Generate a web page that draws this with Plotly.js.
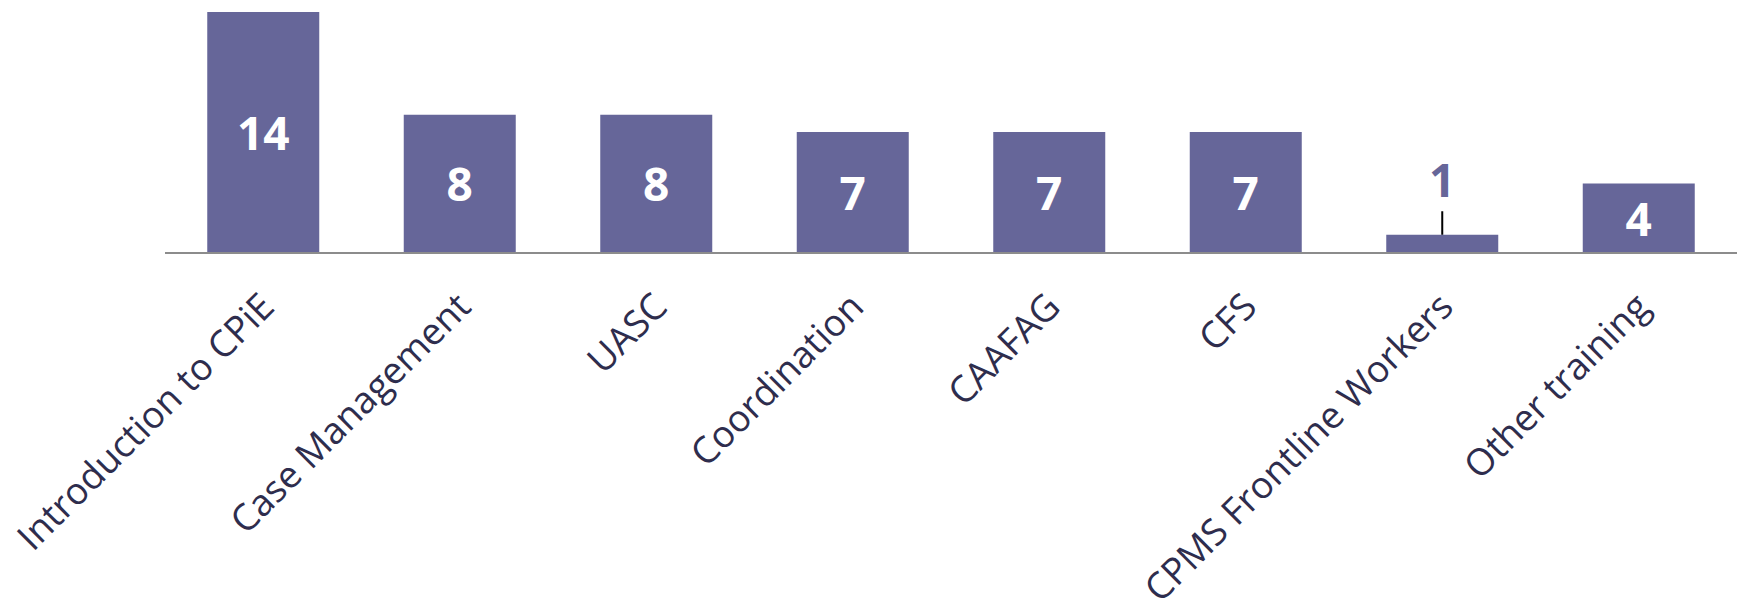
<!DOCTYPE html>
<html>
<head>
<meta charset="utf-8">
<script src="https://cdn.plot.ly/plotly-3.0.1.min.js"></script>
<style>html,body{margin:0;padding:0;background:#fff;}#chart{width:1744px;height:600px;}</style>
</head>
<body>
<div id="chart"></div>
<script>
const categories = ["Introduction to CPiE", "Case Management", "UASC", "Coordination", "CAAFAG", "CFS", "CPMS Frontline Workers", "Other training"];
const values = [14, 8, 8, 7, 7, 7, 1, 4];
const calloutIndex = 6; // bar whose label sits above it with a leader line

const barColor = "#666699";
const labelColor = "#2e2d4d";

const textPositions = values.map((v, i) => i === calloutIndex ? "none" : "inside");

const trace = {
  type: "bar",
  x: categories,
  y: values,
  marker: { color: barColor },
  text: values.map(String),
  textposition: textPositions,
  insidetextanchor: "middle",
  textangle: 0,
  insidetextfont: { family: "Open Sans", size: 46, color: "#ffffff", weight: "bold" },
  hoverinfo: "x+y"
};

const layout = {
  width: 1744,
  height: 600,
  margin: { l: 165, r: 7, t: 12, b: 348 },
  paper_bgcolor: "#ffffff",
  plot_bgcolor: "#ffffff",
  bargap: 0.43,
  showlegend: false,
  xaxis: {
    type: "category",
    tickangle: -45,
    showline: true,
    linecolor: "#8c8c8c",
    linewidth: 2,
    ticks: "",
    ticklabelstandoff: 16,
    showgrid: false,
    zeroline: false,
    tickfont: { family: "Open Sans", size: 37, color: labelColor }
  },
  yaxis: {
    range: [0, 14],
    visible: false,
    showgrid: false,
    zeroline: false
  },
  annotations: [{
    x: categories[calloutIndex],
    y: values[calloutIndex],
    xref: "x",
    yref: "y",
    text: "<b>" + values[calloutIndex] + "</b>",
    font: { family: "Open Sans", size: 46, color: barColor },
    showarrow: true,
    arrowhead: 0,
    arrowwidth: 2,
    arrowcolor: "#000000",
    ax: 0,
    ay: -56,
    standoff: 0
  }]
};

Plotly.newPlot("chart", [trace], layout, { displayModeBar: false, staticPlot: true });
</script>
</body>
</html>
